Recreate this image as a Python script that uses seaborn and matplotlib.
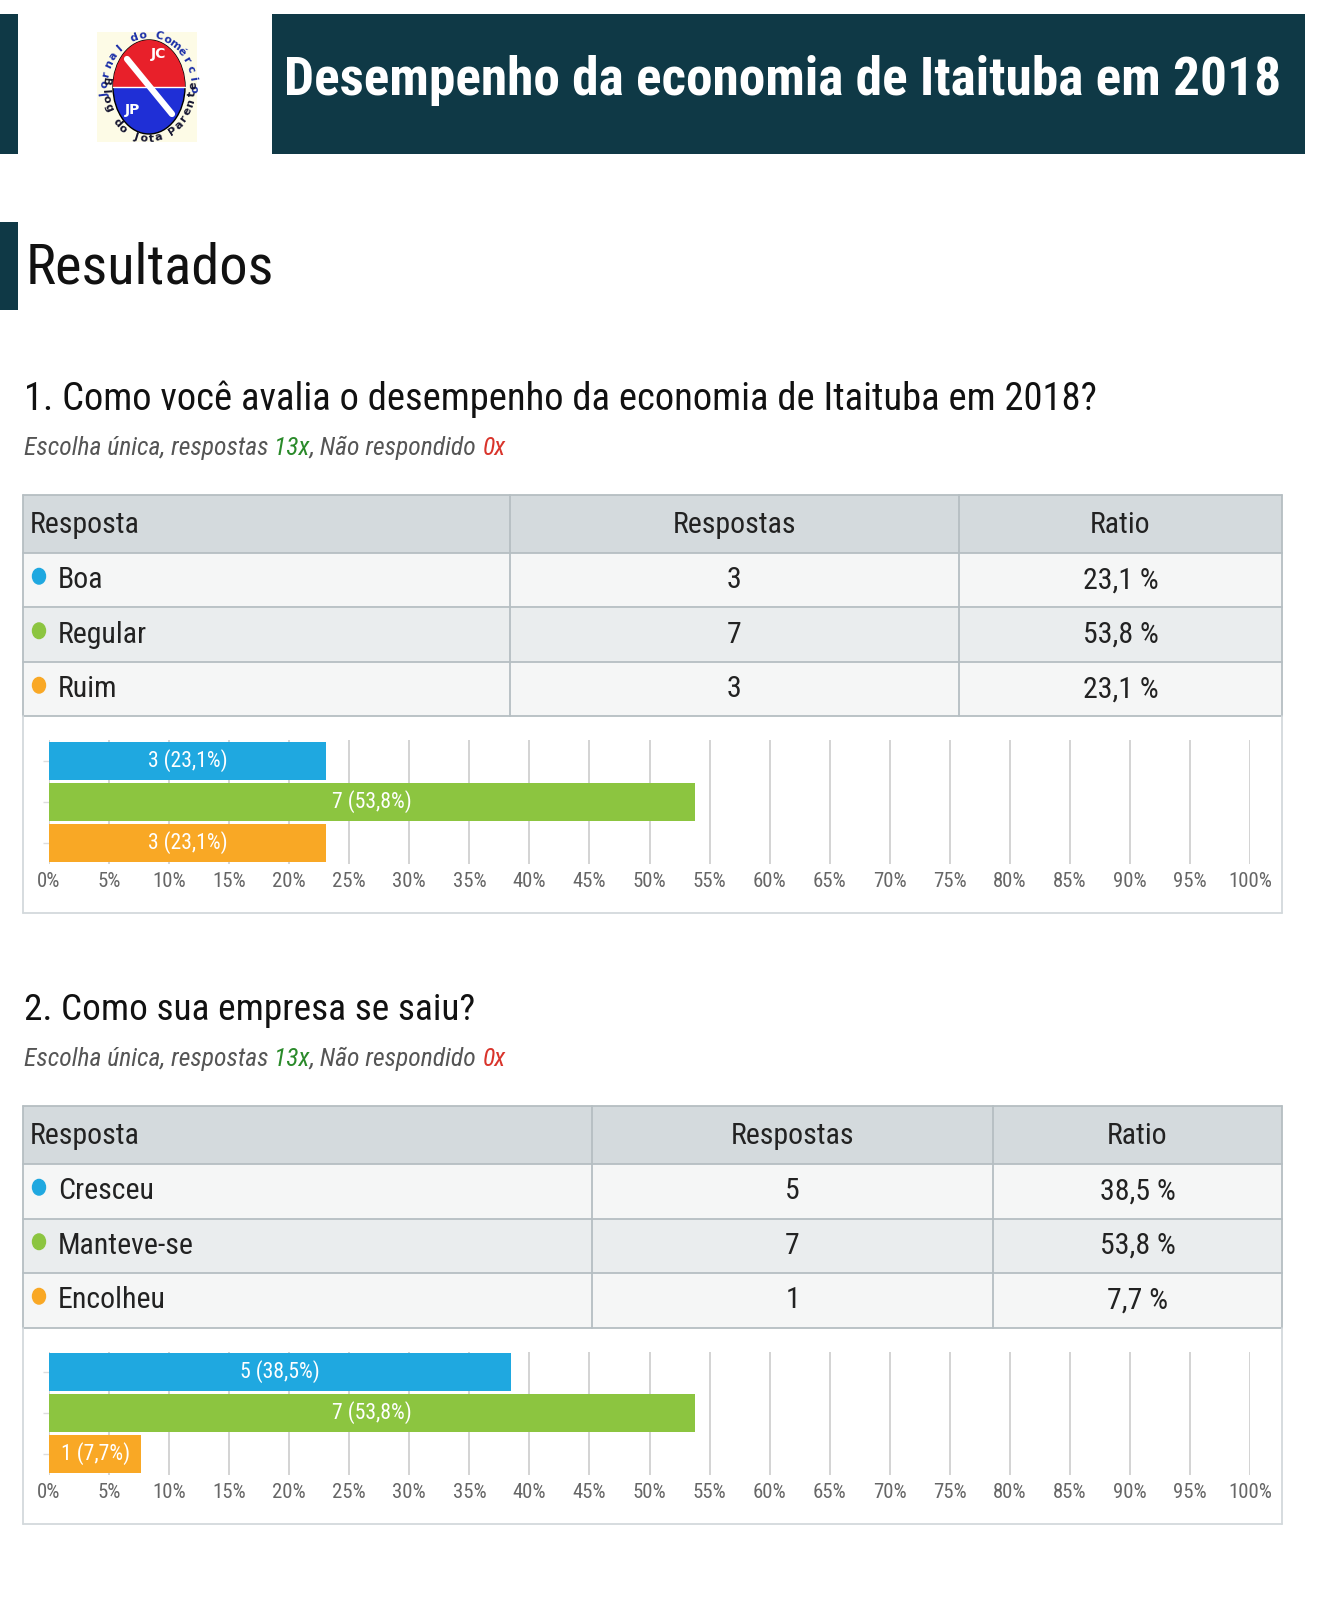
import numpy as np
import pandas as pd
import seaborn as sns
import matplotlib.pyplot as plt
from matplotlib import font_manager
from matplotlib.patches import Rectangle, Ellipse, Circle

# data
q1_title = "1. Como você avalia o desempenho da economia de Itaituba em 2018?"
q1_labels = ["Boa", "Regular", "Ruim"]
q1_counts = [3, 7, 3]
q1_ratios = [23.1, 53.8, 23.1]

q2_title = "2. Como sua empresa se saiu?"
q2_labels = ["Cresceu", "Manteve-se", "Encolheu"]
q2_counts = [5, 7, 1]
q2_ratios = [38.5, 53.8, 7.7]

answered = 13
unanswered = 0
bar_colors = ["#1fa8e0", "#8cc540", "#f9a825"]
ticks = list(range(0, 101, 5))

sns.set_theme(style="white")

# pick the narrowest family that is actually installed
names = {f.name for f in font_manager.fontManager.ttflist}
cands = ['Roboto Condensed', 'Liberation Sans Narrow', 'DejaVu Sans Condensed',
         'Open Sans Condensed', 'Noto Sans Condensed', 'Roboto', 'Liberation Sans']
main = next((c for c in cands if c in names), 'DejaVu Sans')
FONT = [main, 'DejaVu Sans']
plt.rcParams['font.family'] = FONT

W, H = 1331, 1600
DARK = "#0f3946"
fig = plt.figure(figsize=(W / 100, H / 100), dpi=100)
fig.patch.set_facecolor("white")
renderer = fig.canvas.get_renderer()


def fx(x):
    return x / W


def fy(y):
    return 1 - y / H


def rect(x0, y0, x1, y1, fc, ec="none", lw=0, z=0):
    fig.add_artist(Rectangle((fx(x0), fy(y1)), (x1 - x0) / W, (y1 - y0) / H,
                             transform=fig.transFigure, facecolor=fc,
                             edgecolor=ec, linewidth=lw, zorder=z))


def hline(x0, x1, y, c="#b5bec2", lw=1.3):
    fig.add_artist(plt.Line2D([fx(x0), fx(x1)], [fy(y), fy(y)], color=c, lw=lw,
                              transform=fig.transFigure, zorder=3))


def vline(x, y0, y1, c="#b5bec2", lw=1.3):
    fig.add_artist(plt.Line2D([fx(x), fx(x)], [fy(y0), fy(y1)], color=c, lw=lw,
                              transform=fig.transFigure, zorder=3))


def size_for(s, width, **kw):
    t = fig.text(0, 0, s, fontsize=20, **kw)
    w = t.get_window_extent(renderer).width
    t.remove()
    return 20 * width / w


def fit_text(x, y, s, width, **kw):
    extra = {k: v for k, v in kw.items() if k in ("fontweight", "style")}
    return fig.text(fx(x), fy(y), s, fontsize=size_for(s, width, **extra), **kw)


def pieces(x, y, parts, size, **kw):
    for s, c in parts:
        t = fig.text(fx(x), fy(y), s, fontsize=size, color=c, va="center", **kw)
        x += t.get_window_extent(renderer).width


TAB_FS = size_for("Resposta", 110)
TICK_FS = size_for("100%", 44)
BAR_FS = size_for("3 (23,1%)", 80)
SUB = "Escolha única, respostas 13x, Não respondido 0x"
SUB_FS = size_for(SUB, 480, style="italic")

# header banner
rect(0, 14, 18, 154, DARK)
rect(272, 14, 1305, 154, DARK)
fit_text(284, 80, "Desempenho da economia de Itaituba em 2018", 995,
         color="white", fontweight="bold", va="center")

# logo
lax = fig.add_axes([fx(95), fy(144), 102 / W, 112 / H])
lax.set_xlim(95, 197)
lax.set_ylim(-144, -32)
lax.axis("off")
lax.add_patch(Rectangle((97, -142), 100, 110, fc="#fdfbe6", ec="none"))
e_bot = Ellipse((149, -87), 72, 94, fc="#1f2fd6", ec="black", lw=1)
e_top = Ellipse((149, -87), 72, 94, fc="#e8202a", ec="none", zorder=3)
lax.add_patch(e_bot)
lax.add_patch(e_top)
e_top.set_clip_path(Rectangle((100, -87), 100, 60, transform=lax.transData))
lax.plot([113, 185], [-87, -87], color="white", lw=1, zorder=4)
lax.plot([127, 172], [-59, -114], color="white", lw=4.5, solid_capstyle="round", zorder=5)
lax.text(158, -54, "JC", color="white", fontsize=10, fontweight="bold",
         ha="center", va="center", family="DejaVu Sans", zorder=6)
lax.text(132, -110, "JP", color="white", fontsize=10, fontweight="bold",
         ha="center", va="center", family="DejaVu Sans", zorder=6)
for s, a0, a1, col, up in [("Jornal do Comércio", 188, -2, "#1b2fa8", True),
                          ("Blog do Jota Parente", 174, 362, "#151530", False)]:
    angs = np.linspace(a0, a1, len(s))
    for ch, a in zip(s, angs):
        r = np.radians(a)
        rot = a - 90 if up else a + 90
        lax.text(149 + 44 * np.cos(r), -87 + 52 * np.sin(r), ch, rotation=rot,
                 ha="center", va="center", fontsize=8, fontweight="bold",
                 color=col, family="DejaVu Sans", zorder=7)

# section title
rect(0, 222, 18, 310, DARK)
fit_text(26, 268, "Resultados", 248, color="#111111", va="center")


def question(title, title_w, y0, labels, counts, ratios, col1, col2):
    fit_text(24, y0 - 96, title, title_w, color="#111111", va="center")
    pieces(24, y0 - 47, [("Escolha única, respostas ", "#555555"),
                         (f"{answered}x", "#2a8a2a"),
                         (", Não respondido ", "#555555"),
                         (f"{unanswered}x", "#d9342b")],
           SUB_FS, style="italic")
    # table
    top = y0
    hdr = 58
    rh = 54.5
    L, R = 23, 1282
    rect(L, top, R, top + hdr, "#d4dadd")
    fills = ["#f5f6f6", "#eaedee", "#f5f6f6"]
    for i in range(3):
        rect(L, top + hdr + i * rh, R, top + hdr + (i + 1) * rh, fills[i])
    bottom = top + hdr + 3 * rh
    for i in range(4):
        hline(L, R, top + hdr + i * rh)
    hline(L, R, top)
    vline(L, top, bottom)
    vline(R, top, bottom)
    vline(col1, top, bottom)
    vline(col2, top, bottom)
    c1 = (col1 + col2) / 2
    c2 = (col2 + R) / 2
    ty = top + hdr / 2 + 1
    fs = TAB_FS
    fig.text(fx(30), fy(ty), "Resposta", fontsize=fs, va="center", color="#222222")
    fig.text(fx(c1), fy(ty), "Respostas", fontsize=fs, va="center", ha="center", color="#222222")
    fig.text(fx(c2), fy(ty), "Ratio", fontsize=fs, va="center", ha="center", color="#222222")
    for i, (lab, n, r) in enumerate(zip(labels, counts, ratios)):
        yy = top + hdr + (i + 0.5) * rh
        fig.add_artist(Circle((fx(39), fy(yy - 4)), 6.5 / W, transform=fig.transFigure,
                              color=bar_colors[i], zorder=4))
        fig.text(fx(58), fy(yy), lab, fontsize=fs, va="center", color="#222222")
        fig.text(fx(c1), fy(yy), str(n), fontsize=fs, va="center", ha="center", color="#222222")
        fig.text(fx(c2), fy(yy), f"{r:.1f} %".replace(".", ","), fontsize=fs,
                 va="center", ha="center", color="#222222")
    # chart box
    box_b = bottom + 196
    vline(L, bottom, box_b, c="#d3d9dc")
    vline(R, bottom, box_b, c="#d3d9dc")
    hline(L, R, box_b, c="#d3d9dc")

    ax_top = bottom + 24
    ax = fig.add_axes([fx(49), fy(ax_top + 123), (1250 - 49) / W, 123 / H])
    df = pd.DataFrame({"label": labels, "ratio": ratios, "count": counts})
    sns.barplot(data=df, x="ratio", y="label", hue="label", palette=bar_colors,
                orient="h", width=0.92, ax=ax, legend=False, zorder=3,
                edgecolor="none", saturation=1)
    ax.set_xlim(0, 100)
    ax.set_ylim(2.5, -0.5)
    ax.set_xticks(ticks)
    ax.set_xticklabels([f"{t}%" for t in ticks], color="#666666", fontsize=TICK_FS)
    ax.tick_params(axis="x", length=0, pad=6)
    ax.set_yticks(range(3))
    ax.set_yticklabels([])
    ax.tick_params(axis="y", length=4, color="#dddddd", width=1, left=True)
    ax.grid(axis="x", color="#cccccc", lw=1.2, zorder=0)
    ax.grid(axis="y", visible=False)
    for sp in ax.spines.values():
        sp.set_visible(False)
    ax.set_xlabel("")
    ax.set_ylabel("")
    ax.patch.set_alpha(0)
    for i, cont in enumerate(ax.containers):
        lbl = [f"{counts[i]} ({ratios[i]:.1f}%)".replace(".", ",")]
        ax.bar_label(cont, labels=lbl, label_type="center", color="white", fontsize=BAR_FS)


question(q1_title, 1074, 495, q1_labels, q1_counts, q1_ratios, 510, 959)
question(q2_title, 451, 1106, q2_labels, q2_counts, q2_ratios, 592, 993)

fig.savefig("out.png", dpi=100, facecolor="white")
